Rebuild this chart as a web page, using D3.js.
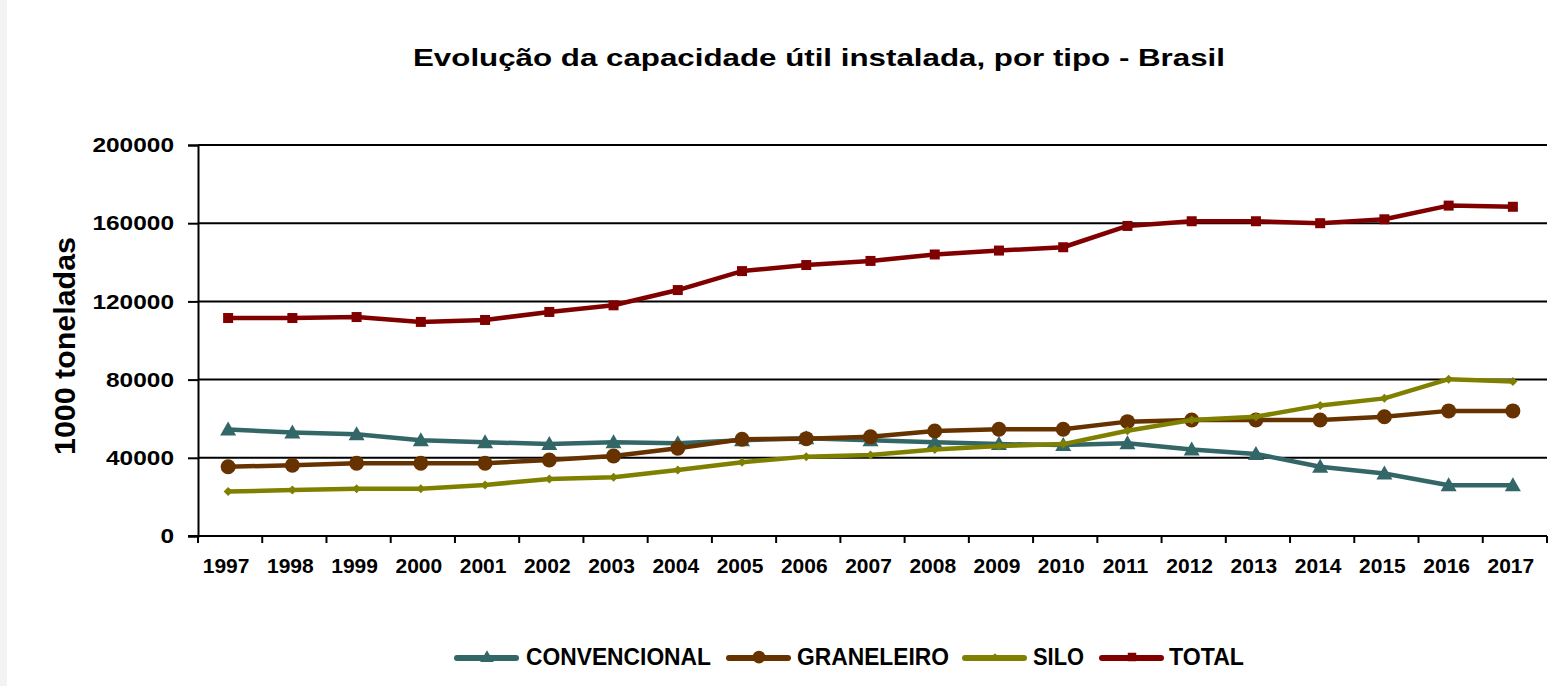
<!DOCTYPE html>
<html>
<head>
<meta charset="utf-8">
<script src="https://cdn.jsdelivr.net/npm/d3@7"></script>
<style>
  body { margin: 0; background: #fff; }
  svg { display: block; font-family: "Liberation Sans", Arial, sans-serif; }
</style>
</head>
<body>
<div id="chart"></div>
<script>
// data (1000 toneladas)
const years = ["1997","1998","1999","2000","2001","2002","2003","2004","2005","2006","2007",
               "2008","2009","2010","2011","2012","2013","2014","2015","2016","2017"]
const convencional = [54500, 53000, 52000, 49000, 48000, 47000, 48000, 47500, 49000, 50000, 49000,
                      48000, 47000, 46500, 47400, 44300, 42000, 35400, 32000, 26000, 26000]
const graneleiro = [35400, 36200, 37200, 37200, 37200, 38900, 40900, 44900, 49500, 49800, 50800,
                    53700, 54600, 54600, 58500, 59300, 59300, 59300, 61000, 64000, 64000]
const silo = [22700, 23500, 24200, 24200, 26100, 29200, 30000, 33800, 37700, 40600, 41400,
              44300, 46000, 47000, 53800, 59300, 61000, 66800, 70400, 80200, 79000]
const total = [111500, 111500, 112000, 109500, 110500, 114600, 118000, 125800, 135500, 138600, 140700,
               144000, 146000, 147700, 158600, 161000, 161000, 160000, 162000, 169000, 168400]
const yTicks = [0, 40000, 80000, 120000, 160000, 200000]

const series = [
    {name: "CONVENCIONAL", values: convencional, color: "#336666", marker: "triangle"},
    {name: "GRANELEIRO", values: graneleiro, color: "#663300", marker: "circle"},
    {name: "SILO", values: silo, color: "#808000", marker: "diamond"},
    {name: "TOTAL", values: total, color: "#800000", marker: "square"}
]

const W = 1561, H = 686
const svg = d3.select("#chart").append("svg")
    .attr("width", W)
    .attr("height", H)

// thin grey strip on the left edge
svg.append("rect").attr("x", 0).attr("y", 0).attr("width", 7).attr("height", H).attr("fill", "#f3f3f3")

const plotLeft = 198, plotRight = 1547, plotTop = 145, plotBottom = 536

const x = d3.scaleBand().domain(years).range([plotLeft, plotRight])
const y = d3.scaleLinear().domain([0, 200000]).range([plotBottom, plotTop])
const px = d => x(d) + x.bandwidth() / 2 - 2

// title
svg.append("text")
    .attr("x", 819).attr("y", 66)
    .attr("text-anchor", "middle")
    .attr("font-size", 24).attr("font-weight", "bold")
    .attr("textLength", 812).attr("lengthAdjust", "spacingAndGlyphs")
    .text("Evolução da capacidade útil instalada, por tipo - Brasil")

// y label
svg.append("text")
    .attr("transform", "translate(75,346) rotate(-90)")
    .attr("text-anchor", "middle")
    .attr("font-size", 29).attr("font-weight", "bold")
    .attr("textLength", 218).attr("lengthAdjust", "spacingAndGlyphs")
    .text("1000 toneladas")

// gridlines
svg.append("g").selectAll("line")
    .data(yTicks.filter(d => d > 0))
    .enter().append("line")
    .attr("x1", plotLeft).attr("x2", plotRight)
    .attr("y1", d => y(d)).attr("y2", d => y(d))
    .attr("stroke", "#000").attr("stroke-width", 2)

// y axis
const yAxis = d3.axisLeft(y).tickValues(yTicks).tickSize(10).tickPadding(14).tickFormat(d3.format("d"))
const gy = svg.append("g").attr("transform", `translate(${plotLeft},0)`).call(yAxis)
gy.select(".domain").attr("stroke", "#000").attr("stroke-width", 2)
gy.selectAll(".tick line").attr("stroke", "#000").attr("stroke-width", 2)
gy.selectAll("text").attr("font-size", 21).attr("font-weight", "bold").attr("fill", "#000")
    .attr("font-family", "Liberation Sans, Arial, sans-serif")
    .attr("textLength", d => String(d).length * 13.6).attr("lengthAdjust", "spacingAndGlyphs")

// x axis
svg.append("line")
    .attr("x1", plotLeft - 10).attr("x2", plotRight)
    .attr("y1", plotBottom).attr("y2", plotBottom)
    .attr("stroke", "#000").attr("stroke-width", 2)

const boundaries = years.map(d => x(d)).concat([x.range()[1]])
svg.append("g").selectAll("line")
    .data(boundaries)
    .enter().append("line")
    .attr("x1", d => d).attr("x2", d => d)
    .attr("y1", plotBottom).attr("y2", plotBottom + 7)
    .attr("stroke", "#000").attr("stroke-width", 2)

svg.append("g").selectAll("text")
    .data(years)
    .enter().append("text")
    .attr("x", d => px(d) - 2)
    .attr("y", 573)
    .attr("text-anchor", "middle")
    .attr("font-size", 21).attr("font-weight", "bold")
    .text(d => d)

// markers
function drawMarker(g, type, color, cx, cy, k = 1) {
    if (type === "triangle") {
        g.append("path")
            .attr("d", `M${cx},${cy - 8 * k}L${cx + 8 * k},${cy + 6 * k}L${cx - 8 * k},${cy + 6 * k}Z`)
            .attr("fill", color)
    } else if (type === "circle") {
        g.append("circle").attr("cx", cx).attr("cy", cy).attr("r", 7.5 * k).attr("fill", color)
    } else if (type === "diamond") {
        g.append("path")
            .attr("d", `M${cx},${cy - 4.5 * k}L${cx + 4.5 * k},${cy}L${cx},${cy + 4.5 * k}L${cx - 4.5 * k},${cy}Z`)
            .attr("fill", color)
    } else {
        g.append("rect").attr("x", cx - 5 * k).attr("y", cy - 5 * k)
            .attr("width", 10 * k).attr("height", 10 * k).attr("fill", color)
    }
}

const line = d3.line()
    .x((d, i) => px(years[i]))
    .y(d => y(d))

series.forEach(s => {
    const g = svg.append("g")
    g.append("path")
        .datum(s.values)
        .attr("d", line)
        .attr("fill", "none")
        .attr("stroke", s.color)
        .attr("stroke-width", 4.5)
        .attr("stroke-linejoin", "round")
    s.values.forEach((v, i) => drawMarker(g, s.marker, s.color, px(years[i]), y(v)))
})

// legend
const legendPos = [
    {lx: 454, tx: 526, tw: 185},
    {lx: 726, tx: 797, tw: 152},
    {lx: 962, tx: 1033, tw: 51},
    {lx: 1099, tx: 1169, tw: 75}
]
series.forEach((s, i) => {
    const p = legendPos[i]
    const g = svg.append("g")
    g.append("line")
        .attr("x1", p.lx + 3).attr("x2", p.lx + 62)
        .attr("y1", 658).attr("y2", 658)
        .attr("stroke", s.color).attr("stroke-width", 6).attr("stroke-linecap", "round")
    drawMarker(g, s.marker, s.color, p.lx + 33, 657, 0.85)
    g.append("text")
        .attr("x", p.tx).attr("y", 665)
        .attr("font-size", 23).attr("font-weight", "bold")
        .attr("textLength", p.tw).attr("lengthAdjust", "spacingAndGlyphs")
        .text(s.name)
})
</script>
</body>
</html>
